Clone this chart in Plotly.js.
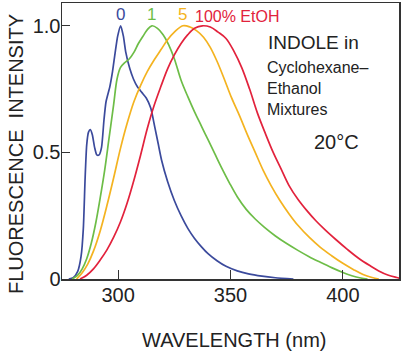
<!DOCTYPE html>
<html>
<head>
<meta charset="utf-8">
<script src="https://cdn.plot.ly/plotly-3.0.1.min.js"></script>
<style>html,body{margin:0;padding:0;background:#fff;}#chart{width:402px;height:363px;}</style>
</head>
<body>
<div id="chart"></div>
<script>
// Wavelength (nm) and relative fluorescence intensity
// 0 % ethanol (pure cyclohexane)
const wl0 = [278, 280, 282, 283.5, 284.5, 285.3, 286, 286.8, 287.6, 288.5, 289.5, 290.5, 291.5, 292.6, 293.7, 294.6, 296.3, 297.5, 298.6, 299.8, 301.1, 302.3, 303.4, 305.2, 306.8, 308.5, 310.5, 312.5, 314.5, 316.3, 317.8, 319.3, 322, 325, 328, 331, 334, 337, 340, 344, 348, 353, 358, 364, 370, 378];
const int0 = [0, 0.005, 0.03, 0.09, 0.2, 0.4, 0.53, 0.58, 0.59, 0.57, 0.52, 0.49, 0.49, 0.52, 0.63, 0.70, 0.76, 0.82, 0.89, 0.96, 1.0, 0.96, 0.895, 0.83, 0.79, 0.76, 0.737, 0.715, 0.675, 0.6, 0.535, 0.47, 0.385, 0.31, 0.25, 0.2, 0.16, 0.128, 0.1, 0.072, 0.05, 0.032, 0.02, 0.011, 0.005, 0];

// 1 % ethanol
const wl1 = [279.5, 282, 284, 286, 288, 290, 292, 294, 296, 298, 299.5, 301, 303, 305, 307, 309, 311.5, 313, 315, 317.5, 320, 322.5, 325, 328, 331, 334, 337, 340, 343, 346, 349.5, 353, 357, 361, 365, 370, 375, 380, 385, 390, 395, 400, 404, 408, 411];
const int1 = [0, 0.015, 0.04, 0.08, 0.14, 0.22, 0.32, 0.43, 0.56, 0.69, 0.79, 0.835, 0.855, 0.87, 0.895, 0.93, 0.965, 0.985, 1.0, 0.99, 0.965, 0.925, 0.87, 0.785, 0.72, 0.66, 0.605, 0.55, 0.495, 0.44, 0.38, 0.325, 0.275, 0.237, 0.205, 0.17, 0.14, 0.113, 0.088, 0.066, 0.045, 0.026, 0.013, 0.004, 0];

// 5 % ethanol
const wl5 = [281.5, 284, 286.5, 289, 292, 295, 298, 301, 304, 307, 310, 313, 316, 319, 322, 325, 328.8, 332, 335, 338, 341, 344, 347, 350.5, 354, 357.5, 361, 364.5, 368, 372, 376, 380, 385, 390, 395, 400, 405, 409, 413, 416];
const int5 = [0, 0.025, 0.06, 0.11, 0.19, 0.29, 0.4, 0.515, 0.615, 0.7, 0.765, 0.82, 0.865, 0.905, 0.945, 0.975, 1.0, 0.995, 0.98, 0.955, 0.915, 0.86, 0.795, 0.715, 0.645, 0.57, 0.5, 0.43, 0.37, 0.31, 0.258, 0.212, 0.165, 0.125, 0.092, 0.062, 0.036, 0.018, 0.006, 0];

// 100 % ethanol
const wl100 = [283, 286, 289, 292, 295, 298, 301, 304, 307, 310, 313, 316, 319, 322, 325, 328, 331, 334, 337.5, 341, 344.5, 348, 351.5, 355, 358.5, 362, 365.5, 369, 372.5, 376, 380, 384, 388, 392, 397, 402, 407, 412, 416, 420, 424, 427];
const int100 = [0, 0.015, 0.04, 0.075, 0.115, 0.165, 0.225, 0.3, 0.39, 0.49, 0.595, 0.685, 0.76, 0.83, 0.885, 0.93, 0.965, 0.99, 1.0, 0.995, 0.975, 0.95, 0.9, 0.835, 0.75, 0.655, 0.575, 0.5, 0.435, 0.37, 0.315, 0.27, 0.23, 0.195, 0.155, 0.117, 0.082, 0.053, 0.032, 0.016, 0.006, 0];

const seriesLabels = ["0", "1", "5", "100% EtOH"];
const xTicks = [300, 350, 400];
const xTickText = ["300", "350", "400"];
const yTicks = [0, 0.5, 1.0];
const yTickText = ["0", "0.5", "1.0"];

const colors = ["#3b4a9c", "#6dbd47", "#f4b320", "#e2223c"];
const FONT = "Liberation Sans, Arial, sans-serif";

const xs = [wl0, wl1, wl5, wl100];
const ys = [int0, int1, int5, int100];
const traces = xs.map((x, i) => ({
  x: x, y: ys[i], type: "scatter", mode: "lines", name: seriesLabels[i],
  line: {color: colors[i], width: 1.7, shape: "spline", smoothing: i === 0 ? 0.6 : 1.0},
  hoverinfo: "skip"
}));

// positions of curve labels (data coords)
const labelPos = [[301, 1.045], [315, 1.045], [328.5, 1.045], [353, 1.035]];

const annotations = seriesLabels.map((t, i) => ({
  x: labelPos[i][0], y: labelPos[i][1], xref: "x", yref: "y",
  text: t, showarrow: false, xanchor: "center", yanchor: "middle",
  font: {family: FONT, size: i === 3 ? 16 : 17, color: colors[i]}
}));

const px = (p) => (p - 62) / 337;   // pixel -> paper x
const py = (p) => (279 - p) / 276;  // pixel -> paper y

annotations.push(
  {x: px(266), y: py(43), xref: "paper", yref: "paper", text: "INDOLE in", showarrow: false,
   xanchor: "left", yanchor: "middle", font: {family: FONT, size: 19, color: "#222"}},
  {x: px(265), y: py(67), xref: "paper", yref: "paper", text: "Cyclohexane\u2013", showarrow: false,
   xanchor: "left", yanchor: "middle", font: {family: FONT, size: 16, color: "#222"}},
  {x: px(265), y: py(88), xref: "paper", yref: "paper", text: "Ethanol", showarrow: false,
   xanchor: "left", yanchor: "middle", font: {family: FONT, size: 16, color: "#222"}},
  {x: px(265), y: py(109), xref: "paper", yref: "paper", text: "Mixtures", showarrow: false,
   xanchor: "left", yanchor: "middle", font: {family: FONT, size: 16, color: "#222"}},
  {x: px(312), y: py(142), xref: "paper", yref: "paper", text: "20\u00B0C", showarrow: false,
   xanchor: "left", yanchor: "middle", font: {family: FONT, size: 20, color: "#222"}},
  {x: px(234), y: py(340), xref: "paper", yref: "paper", text: "WAVELENGTH (nm)", showarrow: false,
   xanchor: "center", yanchor: "middle", font: {family: FONT, size: 20, color: "#222"}},
  {x: px(16), y: py(154), xref: "paper", yref: "paper", text: "FLUORESCENCE  INTENSITY", showarrow: false,
   textangle: -90, xanchor: "center", yanchor: "middle", font: {family: FONT, size: 20, color: "#222"}}
);

const layout = {
  width: 402, height: 363,
  margin: {l: 62, r: 3, t: 3, b: 84, pad: 0},
  paper_bgcolor: "#fff", plot_bgcolor: "#fff",
  showlegend: false,
  font: {family: FONT, color: "#222"},
  xaxis: {
    range: [275, 425], showgrid: false, zeroline: false,
    showline: true, mirror: true, linecolor: "#333", linewidth: 1.5,
    ticks: "inside", ticklen: 9, tickwidth: 1.2, tickcolor: "#333",
    tickvals: xTicks, ticktext: xTickText, ticklabelstandoff: -3,
    tickfont: {family: FONT, size: 20, color: "#222"}
  },
  yaxis: {
    range: [0, 1.09], showgrid: false, zeroline: false,
    showline: true, mirror: true, linecolor: "#333", linewidth: 1.5,
    ticks: "inside", ticklen: 8, tickwidth: 1.2, tickcolor: "#333",
    tickvals: yTicks, ticktext: yTickText, ticklabelstandoff: -4,
    tickfont: {family: FONT, size: 20, color: "#222"}
  },
  annotations: annotations
};

Plotly.newPlot("chart", traces, layout, {displayModeBar: false, staticPlot: true});
</script>
</body>
</html>
